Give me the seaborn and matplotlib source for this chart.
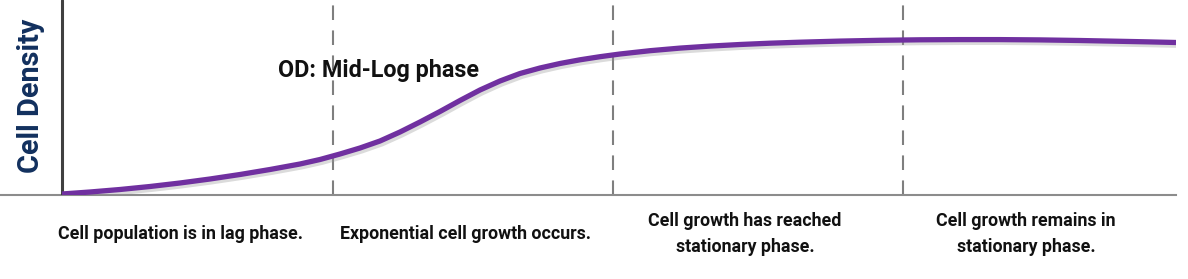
import numpy as np
import pandas as pd
import seaborn as sns
import matplotlib
matplotlib.use("Agg")
import matplotlib.pyplot as plt
import matplotlib.patheffects as pe

sns.set_style("white")
plt.rcParams['font.family'] = ['Roboto', 'DejaVu Sans']

# Data (time in arbitrary units, cell density in arbitrary units)
time = [0, 28, 58, 88, 118, 148, 178, 208, 238, 258,
        278, 298, 318, 338, 358, 378, 398, 418, 438, 458,
        478, 498, 518, 538, 558, 588, 618, 648, 678, 708,
        738, 778, 818, 858, 898, 938, 978, 1018, 1058, 1088, 1114]
density = [1, 3, 5.5, 8.5, 12, 16, 20.5, 25.5, 31, 35.5,
           41, 47, 54, 63, 73, 83.5, 94.5, 105, 114, 121.5,
           127, 131.5, 135.2, 138.3, 141, 144.3, 146.9, 148.9, 150.5, 151.8,
           152.8, 153.9, 154.7, 155.2, 155.4, 155.4, 155.1, 154.5, 153.7, 153.1, 152.5]
phase_bounds = [271, 551, 841]
phase_labels = ["Cell population is in lag phase.",
                "Exponential cell growth occurs.",
                "Cell growth has reached\nstationary phase.",
                "Cell growth remains in\nstationary phase."]
annotation = "OD: Mid-Log phase"
ylabel = "Cell Density"

df = pd.DataFrame({"time": time, "density": density})

fig = plt.figure(figsize=(11.88, 2.79), dpi=100)
ax = fig.add_axes([0, 84/279, 1176/1188, 195/279])

sns.lineplot(data=df, x="time", y="density", ax=ax, color="#7030A0", lw=3.8,
             solid_capstyle="butt", solid_joinstyle="round", zorder=5,
             path_effects=[pe.SimpleLineShadow(offset=(1.5, -2), shadow_color="#999999", alpha=0.35),
                           pe.Normal()])

for b in phase_bounds:
    ax.axvline(b, color="#7f7f7f", lw=1.5, dashes=(7, 5), zorder=2)
ax.axvline(0, color="#404040", lw=2.2, zorder=3)

ax.set_xlim(-62, 1114)
ax.set_ylim(0, 195)
for s in ["top", "right", "left"]:
    ax.spines[s].set_visible(False)
ax.spines["bottom"].set_color("#8c8c8c")
ax.spines["bottom"].set_linewidth(1.5)
ax.set_xticks([])
ax.set_yticks([])
ax.set_xlabel("")
ax.set_ylabel("")

ax.text(216, 124, annotation, ha="left", va="center", fontsize=16.8,
        fontweight="bold", color="#111111", zorder=6)

fig.text(31/1188, 1 - 96/279, ylabel, rotation=90, ha="center", va="center",
         fontsize=20.8, fontweight="bold", color="#12305e")

label_x = [180, 466, 745, 1026]
for lx, lab in zip(label_x, phase_labels):
    fig.text(lx/1188, 1 - 234/279, lab, ha="center", va="center", fontsize=12.8,
             fontweight="bold", color="#111111", linespacing=1.58)

fig.savefig("out.png", dpi=100)
